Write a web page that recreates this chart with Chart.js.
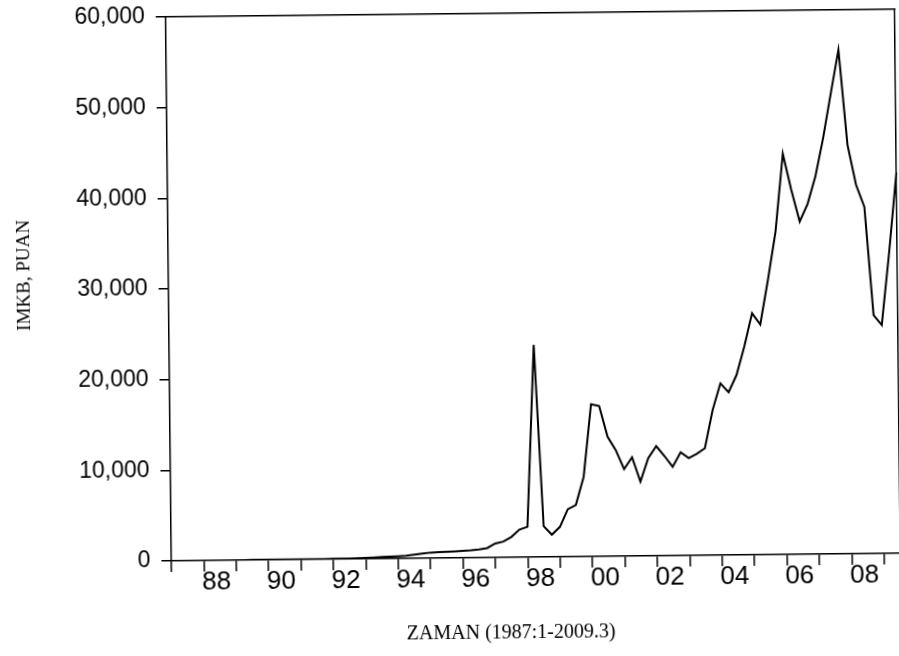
<!DOCTYPE html>
<html>
<head>
<meta charset="utf-8">
<title>IMKB</title>
<script src="https://cdn.jsdelivr.net/npm/chart.js@4.4.1/dist/chart.umd.min.js"></script>
<style>
  html, body { margin: 0; padding: 0; background: #fff; overflow: hidden; }
  #wrap { width: 899px; height: 656px; transform: rotate(-0.6deg); transform-origin: 449.5px 328px; }
  canvas { display: block; }
</style>
</head>
<body>
<div id="wrap"><canvas id="imkbChart" width="899" height="656"></canvas></div>
<script>
const firstYear = 1987;
const xTitle = "ZAMAN (1987:1-2009.3)";
const yTitle = "IMKB, PUAN";
const yearTicks = ["88", "90", "92", "94", "96", "98", "00", "02", "04", "06", "08"];

// quarterly values, 1987:1 - 2009:3
const imkbPuan = [
  5, 8, 10, 6,              // 1987
  4, 3, 3, 4,               // 1988
  6, 10, 15, 22,            // 1989
  35, 40, 32, 30,           // 1990
  35, 40, 38, 40,           // 1991
  45, 50, 60, 80,           // 1992
  110, 150, 190, 230,       // 1993
  260, 300, 420, 520,       // 1994
  620, 660, 690, 730,       // 1995
  780, 830, 920, 1050,      // 1996
  1550, 1750, 2250, 3050,   // 1997
  3350, 23400, 3400, 2450,  // 1998
  3300, 5250, 5700, 8800,   // 1999
  16800, 16600, 13200, 11700, // 2000
  9600, 10900, 8200, 10800,   // 2001
  12100, 11000, 9800, 11400,  // 2002
  10750, 11200, 11800, 16000, // 2003
  18950, 17950, 19850, 23000, // 2004
  26650, 25400, 30300, 35600, // 2005
  44200, 40200, 36700, 38650, // 2006
  41700, 45900, 50800, 55600, // 2007
  45100, 40700, 38250, 26300, // 2008
  25200, 33200, 42000         // 2009
];

const quarterLabels = imkbPuan.map((_, i) => `${firstYear + Math.floor(i / 4)}:${(i % 4) + 1}`);

const axisCaptions = {
  id: "axisCaptions",
  afterDraw(chart) {
    const { ctx } = chart;
    ctx.save();
    ctx.fillStyle = "#000";
    ctx.textAlign = "center";
    ctx.textBaseline = "alphabetic";
    ctx.font = "20px 'Liberation Serif', 'Times New Roman', serif";
    ctx.fillText(xTitle, 508, 639);
    ctx.translate(30, 271);
    ctx.rotate(-Math.PI / 2);
    ctx.font = "19px 'Liberation Serif', 'Times New Roman', serif";
    ctx.fillText(yTitle, 0, 0);
    ctx.restore();
  }
};

const frameAxis = {
  type: "linear",
  min: 0,
  max: 1,
  border: { display: true, color: "#000", width: 1.5 },
  grid: { display: false },
  ticks: { display: false }
};

new Chart(document.getElementById("imkbChart"), {
  type: "line",
  data: {
    labels: quarterLabels,
    datasets: [
      {
        data: imkbPuan,
        borderColor: "#000",
        borderWidth: 2,
        pointRadius: 0,
        fill: false,
        tension: 0
      }
    ]
  },
  options: {
    responsive: false,
    animation: false,
    devicePixelRatio: 1,
    layout: { padding: { top: 0, right: 1, left: 0, bottom: 0 } },
    plugins: { legend: { display: false }, tooltip: { enabled: false } },
    scales: {
      x: {
        type: "category",
        position: "bottom",
        offset: false,
        afterBuildTicks: (axis) => {
          axis.ticks = axis.ticks.filter((t) => t.value % 4 === 0);
        },
        afterFit: (axis) => { axis.height = 98; },
        border: { display: true, color: "#000", width: 1.5 },
        grid: { offset: false, drawOnChartArea: false, drawTicks: true, tickLength: 11, color: "#000", lineWidth: 1.5 },
        ticks: {
          autoSkip: false,
          maxRotation: 0,
          minRotation: 0,
          labelOffset: 12.5,
          padding: -2,
          color: "#000",
          font: { family: "'Liberation Sans Narrow', 'Liberation Sans', Arial", size: 26, lineHeight: 1 },
          callback: (value) => ((value - 4) % 8 === 0 ? yearTicks[(value - 4) / 8] : "")
        }
      },
      y: {
        min: 0,
        max: 60000,
        afterFit: (axis) => {
          // plot spans y 14..558 and starts at x 169
          axis.width = 169;
          axis.paddingTop = 14;
          axis.paddingBottom = 0;
        },
        border: { display: true, color: "#000", width: 1.5 },
        grid: { drawOnChartArea: false, drawTicks: true, tickLength: 10, color: "#000", lineWidth: 1.5 },
        ticks: {
          stepSize: 10000,
          padding: 11,
          color: "#000",
          font: { family: "'Liberation Sans', Arial", size: 23 },
          callback: (value) => value.toLocaleString("en-US")
        }
      },
      xTop: { ...frameAxis, position: "top", afterFit: (axis) => { axis.height = 0; } },
      yRight: { ...frameAxis, position: "right", afterFit: (axis) => { axis.width = 0; } }
    }
  },
  plugins: [axisCaptions]
});
</script>
</body>
</html>
